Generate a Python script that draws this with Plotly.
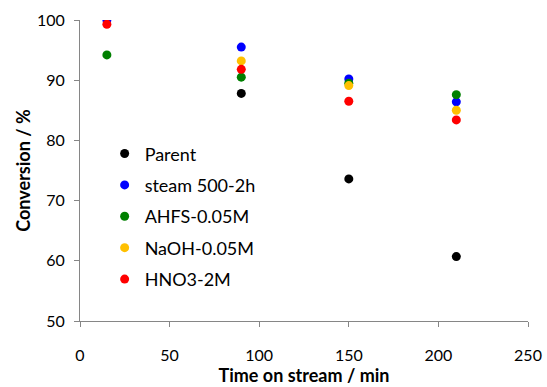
import plotly.graph_objects as go

# Time on stream (min)
time_min = [15, 90, 150, 210]

# Conversion (%) for each catalyst; None where no point is shown
parent = [None, 87.8, 73.6, 60.7]
steam_500_2h = [100.0, 95.5, 90.2, 86.4]
ahfs_005m = [94.2, 90.5, 89.5, 87.6]
naoh_005m = [None, 93.2, 89.1, 85.0]
hno3_2m = [99.3, 91.8, 86.5, 83.4]

series_names = ["Parent", "steam 500-2h", "AHFS-0.05M", "NaOH-0.05M", "HNO3-2M"]
series_values = [parent, steam_500_2h, ahfs_005m, naoh_005m, hno3_2m]
series_colors = ["#000000", "#0000ff", "#008000", "#ffc000", "#ff0000"]

x_ticks = [0, 50, 100, 150, 200, 250]
y_ticks = [50, 60, 70, 80, 90, 100]

FONT = "Lato, 'Open Sans', sans-serif"

fig = go.Figure()
for name, vals, col in zip(series_names, series_values, series_colors):
    fig.add_trace(go.Scatter(
        x=time_min,
        y=vals,
        mode="markers",
        name=name,
        legendgroup=name,
        marker=dict(color=col, size=9, line=dict(width=0)),
    ))

axis_common = dict(
    showgrid=False,
    zeroline=False,
    showline=True,
    linecolor="#868686",
    linewidth=1,
    ticks="outside",
    tickcolor="#868686",
    ticklen=5,
    automargin=False,
    tickfont=dict(family=FONT, size=16, color="#000000"),
)

fig.update_layout(
    width=547,
    height=387,
    margin=dict(l=80, r=19, t=20, b=66),
    paper_bgcolor="white",
    plot_bgcolor="white",
    font=dict(family=FONT, color="#000000"),
    xaxis=dict(
        range=[0, 250],
        tickvals=x_ticks,
        ticklabelstandoff=15,
        title=dict(text="<b>Time on stream / min</b>", font=dict(size=18), standoff=4),
        **axis_common,
    ),
    yaxis=dict(
        range=[50, 100],
        tickvals=y_ticks,
        ticklabelstandoff=6,
        title=dict(text="<b>Conversion / %</b>", font=dict(size=18), standoff=1),
        **axis_common,
    ),
    showlegend=True,
    legend=dict(
        x=0.055,
        y=0.617,
        xanchor="left",
        yanchor="top",
        bgcolor="rgba(0,0,0,0)",
        font=dict(family=FONT, size=18),
        tracegroupgap=5,
        itemwidth=30,
    ),
)

fig.write_html("out.html")
